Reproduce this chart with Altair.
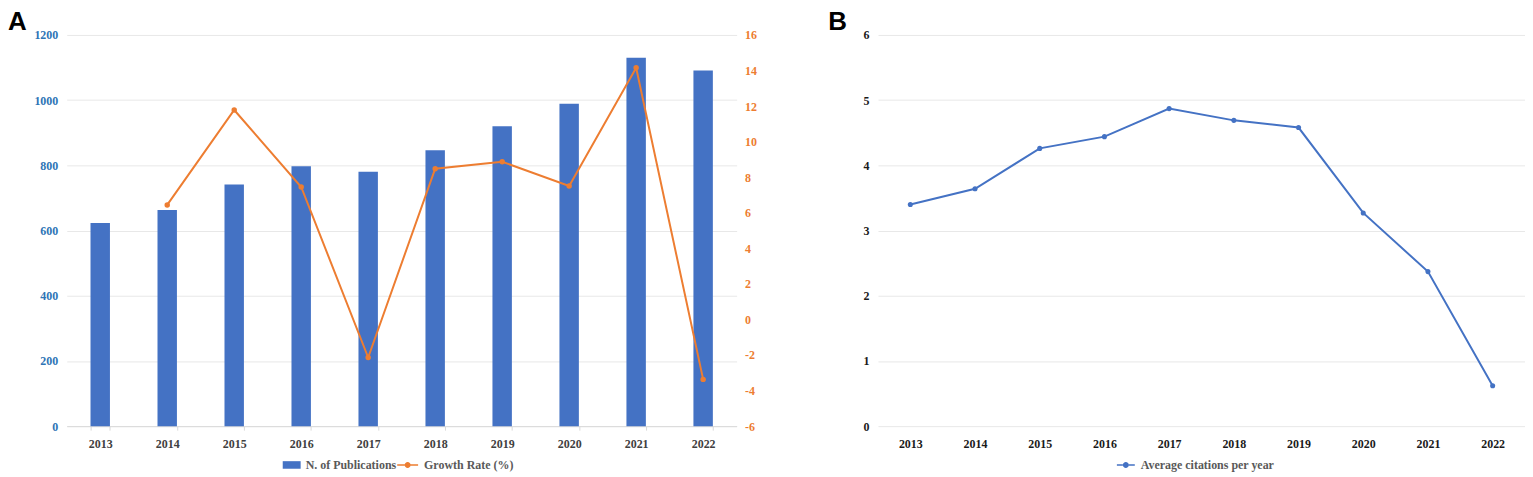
import altair as alt
import pandas as pd

years = ["2013", "2014", "2015", "2016", "2017", "2018", "2019", "2020", "2021", "2022"]
publications = [623, 663, 741, 797, 780, 846, 920, 989, 1130, 1091]
growth_rate = [None, 6.44, 11.78, 7.45, -2.14, 8.48, 8.87, 7.51, 14.15, -3.37]
avg_citations = [3.40, 3.64, 4.26, 4.44, 4.87, 4.69, 4.58, 3.27, 2.37, 0.62]

left_ticks = [0, 200, 400, 600, 800, 1000, 1200]
right_ticks = [-6, -4, -2, 0, 2, 4, 6, 8, 10, 12, 14, 16]
b_ticks = [0, 1, 2, 3, 4, 5, 6]

BLUE = "#4472c4"
ORANGE = "#ed7d31"
SERIF = "Liberation Serif"

df = pd.DataFrame({"year": years, "pubs": publications, "growth": growth_rate, "cit": avg_citations})

# legend symbols: size 64 -> 4px per unit, box of 8px; shapes extend to the right of the box
RECT = "M-1,-0.95H3.5V0.95H-1Z"
LINEDOT_A = ("M-1,-0.2H0.9V0.2H-1Z M2.35,-0.2H4.25V0.2H2.35Z "
             "M0.875,0A0.75,0.75,0,1,0,2.375,0A0.75,0.75,0,1,0,0.875,0Z")
LINEDOT_B = ("M-1,-0.2H0.5V0.2H-1Z M2.0,-0.2H3.5V0.2H2.0Z "
             "M0.5,0A0.75,0.75,0,1,0,2.0,0A0.75,0.75,0,1,0,0.5,0Z")


def legend(x, y, sym, offset):
    return alt.Legend(
        orient="none", legendX=x, legendY=y, direction="horizontal", title=None,
        symbolType=sym, symbolSize=64, symbolStrokeWidth=0, padding=0,
        labelFont=SERIF, labelFontSize=12, labelFontWeight="bold", labelColor="#595959",
        labelOffset=offset,
    )


x_a = alt.X(
    "year:N", sort=years, title=None,
    scale=alt.Scale(paddingInner=0.71, paddingOuter=0.355),
    axis=alt.Axis(labelAngle=0, labelFont=SERIF, labelFontSize=12, labelFontWeight="bold",
                  labelColor="#404040", domainColor="#d9d9d9", tickColor="#d9d9d9",
                  tickSize=4, tickBand="extent", labelPadding=8, grid=False),
)

base_a = alt.Chart(df)

bars = base_a.mark_bar(color=BLUE).encode(
    x=x_a,
    y=alt.Y("pubs:Q", title=None,
            scale=alt.Scale(domain=[0, 1200], nice=False),
            axis=alt.Axis(values=left_ticks, labelExpr="'' + datum.value", labelFont=SERIF,
                          labelFontSize=12, labelFontWeight="bold",
                          labelColor="#2e74b5", domain=False, ticks=False, labelPadding=9,
                          gridColor="#e8e8e8", minExtent=59, maxExtent=59)),
    color=alt.Color("s1:N", scale=alt.Scale(domain=["N. of Publications"], range=[BLUE]),
                    legend=legend(215, 426, RECT, 13)),
).transform_calculate(s1="'N. of Publications'")

growth_base = base_a.transform_filter("datum.growth != null").encode(
    x=x_a,
    y=alt.Y("growth:Q", title=None,
            scale=alt.Scale(domain=[-6, 16], nice=False),
            axis=alt.Axis(orient="right", values=right_ticks, labelExpr="'' + datum.value",
                          labelFont=SERIF, labelFontSize=12,
                          labelFontWeight="bold", labelColor=ORANGE, domain=False, ticks=False,
                          grid=False, labelPadding=8, minExtent=30, maxExtent=30)),
)
g_line = growth_base.mark_line(color=ORANGE, strokeWidth=2)
g_pts = growth_base.mark_point(filled=True, size=30, opacity=1).encode(
    color=alt.Color("s2:N", scale=alt.Scale(domain=["Growth Rate (%)"], range=[ORANGE]),
                    legend=legend(330, 426, LINEDOT_A, 17)),
).transform_calculate(s2="'Growth Rate (%)'")

growth_layer = alt.layer(g_line, g_pts)

panel_a = alt.layer(bars, growth_layer).resolve_scale(y="independent", color="independent").properties(
    width=673, height=393,
    title=alt.TitleParams("A", anchor="start", frame="bounds", font="Liberation Sans", fontSize=26,
                          fontWeight="bold", color="black", offset=-6),
)

x_b = alt.X(
    "year:N", sort=years, title=None,
    scale=alt.Scale(type="point", padding=0.5),
    axis=alt.Axis(labelAngle=0, labelFont=SERIF, labelFontSize=12, labelFontWeight="bold",
                  labelColor="#1a1a1a", domain=False, ticks=False, labelPadding=12, grid=False),
)
y_b = alt.Y("cit:Q", title=None, scale=alt.Scale(domain=[0, 6], nice=False),
            axis=alt.Axis(values=b_ticks, labelFont=SERIF, labelFontSize=12, labelFontWeight="bold",
                          labelColor="#1a1a1a", domain=False, ticks=False, labelPadding=9,
                          gridColor="#e8e8e8", minExtent=50, maxExtent=50))
base_b = alt.Chart(df).encode(x=x_b, y=y_b)
b_line = base_b.mark_line(color=BLUE, strokeWidth=2)
b_pts = base_b.mark_point(filled=True, size=26, opacity=1).encode(
    color=alt.Color("s3:N", scale=alt.Scale(domain=["Average citations per year"], range=[BLUE]),
                    legend=legend(238, 426, LINEDOT_B, 14)),
).transform_calculate(s3="'Average citations per year'")

panel_b = alt.layer(b_line, b_pts).properties(
    width=650, height=393,
    title=alt.TitleParams("B", anchor="start", frame="bounds", font="Liberation Sans", fontSize=26,
                          fontWeight="bold", color="black", offset=-6),
)

chart = alt.hconcat(panel_a, panel_b, spacing=62).resolve_scale(
    y="independent", color="independent", x="independent"
).properties(padding=0).configure_view(stroke=None)

chart.save("out.html", embed_options={"renderer": "svg", "actions": False})
